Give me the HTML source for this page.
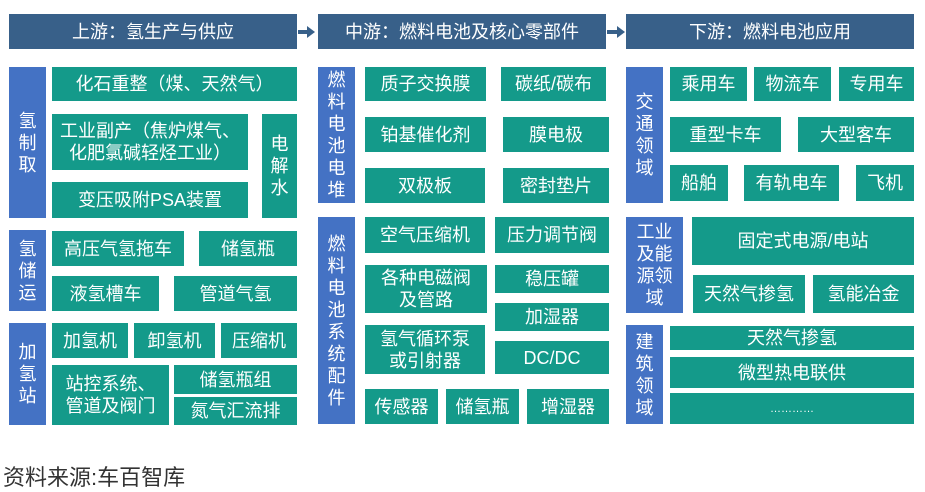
<!DOCTYPE html>
<html><head><meta charset="utf-8"><style>
body{margin:0;width:925px;height:491px;background:#fff;position:relative;overflow:hidden;font-family:"Liberation Sans","Noto Sans CJK SC",sans-serif;}
.b{position:absolute;display:flex;align-items:center;justify-content:center;text-align:center;color:#fff;box-sizing:border-box;font-size:18px;line-height:22px;}
.h{background:#386089;font-size:18px;}
.s{background:#4472c4;font-size:18px;line-height:22px;padding:0 9px;word-break:break-all;}
.t{background:#149a8a;}
.ar{position:absolute;width:0;height:0;border-top:6px solid transparent;border-bottom:6px solid transparent;border-left:8px solid #386089;}
.al{position:absolute;height:4px;background:#386089;}
.src{position:absolute;left:3px;top:460px;font-size:22px;color:#333;white-space:nowrap;}
</style></head><body>
<div class="b h" style="left:9px;top:14px;width:288px;height:35px">上游：氢生产与供应</div>
<div class="b h" style="left:318px;top:14px;width:288px;height:35px">中游：燃料电池及核心零部件</div>
<div class="b h" style="left:626px;top:14px;width:288px;height:35px">下游：燃料电池应用</div>
<div class="al" style="left:298px;top:30px;width:10px"></div><div class="ar" style="left:307px;top:26px"></div>
<div class="al" style="left:607px;top:30px;width:11px"></div><div class="ar" style="left:617px;top:26px"></div>

<div class="b s" style="left:9px;top:67px;width:37px;height:151px">氢制取</div>
<div class="b t" style="left:52px;top:67px;width:245px;height:34px">化石重整（煤、天然气）</div>
<div class="b t" style="left:52px;top:114px;width:196px;height:56px">工业副产（焦炉煤气、<br>化肥氯碱轻烃工业）</div>
<div class="b t" style="left:262px;top:114px;width:35px;height:104px;padding:0 8px">电解水</div>
<div class="b t" style="left:52px;top:182px;width:196px;height:36px">变压吸附PSA装置</div>

<div class="b s" style="left:9px;top:230px;width:37px;height:81px">氢储运</div>
<div class="b t" style="left:52px;top:231px;width:132px;height:35px">高压气氢拖车</div>
<div class="b t" style="left:199px;top:231px;width:98px;height:35px">储氢瓶</div>
<div class="b t" style="left:52px;top:276px;width:107px;height:35px">液氢槽车</div>
<div class="b t" style="left:174px;top:276px;width:123px;height:35px">管道气氢</div>

<div class="b s" style="left:9px;top:323px;width:37px;height:102px">加氢站</div>
<div class="b t" style="left:52px;top:323px;width:76px;height:35px">加氢机</div>
<div class="b t" style="left:134px;top:323px;width:81px;height:35px">卸氢机</div>
<div class="b t" style="left:221px;top:323px;width:76px;height:35px">压缩机</div>
<div class="b t" style="left:52px;top:365px;width:117px;height:60px">站控系统、<br>管道及阀门</div>
<div class="b t" style="left:174px;top:365px;width:123px;height:29px">储氢瓶组</div>
<div class="b t" style="left:174px;top:397px;width:123px;height:28px">氮气汇流排</div>

<div class="b s" style="left:318px;top:67px;width:37px;height:136px">燃料电池电堆</div>
<div class="b t" style="left:365px;top:67px;width:121px;height:34px">质子交换膜</div>
<div class="b t" style="left:501px;top:67px;width:105px;height:34px">碳纸/碳布</div>
<div class="b t" style="left:365px;top:117px;width:121px;height:35px">铂基催化剂</div>
<div class="b t" style="left:503px;top:117px;width:106px;height:35px">膜电极</div>
<div class="b t" style="left:365px;top:168px;width:120px;height:35px">双极板</div>
<div class="b t" style="left:503px;top:168px;width:106px;height:35px">密封垫片</div>

<div class="b s" style="left:318px;top:217px;width:37px;height:207px">燃料电池系统配件</div>
<div class="b t" style="left:365px;top:217px;width:120px;height:36px">空气压缩机</div>
<div class="b t" style="left:495px;top:217px;width:114px;height:36px">压力调节阀</div>
<div class="b t" style="left:365px;top:265px;width:122px;height:48px">各种电磁阀<br>及管路</div>
<div class="b t" style="left:495px;top:265px;width:114px;height:28px">稳压罐</div>
<div class="b t" style="left:495px;top:303px;width:114px;height:28px">加湿器</div>
<div class="b t" style="left:365px;top:325px;width:120px;height:49px">氢气循环泵<br>或引射器</div>
<div class="b t" style="left:495px;top:341px;width:114px;height:33px">DC/DC</div>
<div class="b t" style="left:365px;top:389px;width:73px;height:35px">传感器</div>
<div class="b t" style="left:446px;top:389px;width:73px;height:35px">储氢瓶</div>
<div class="b t" style="left:527px;top:389px;width:82px;height:35px">增湿器</div>

<div class="b s" style="left:626px;top:67px;width:37px;height:136px">交通领域</div>
<div class="b t" style="left:670px;top:67px;width:77px;height:34px">乘用车</div>
<div class="b t" style="left:754px;top:67px;width:77px;height:34px">物流车</div>
<div class="b t" style="left:839px;top:67px;width:75px;height:34px">专用车</div>
<div class="b t" style="left:670px;top:117px;width:111px;height:35px">重型卡车</div>
<div class="b t" style="left:798px;top:117px;width:116px;height:35px">大型客车</div>
<div class="b t" style="left:670px;top:165px;width:58px;height:36px">船舶</div>
<div class="b t" style="left:744px;top:165px;width:95px;height:36px">有轨电车</div>
<div class="b t" style="left:856px;top:165px;width:58px;height:36px">飞机</div>

<div class="b s" style="left:626px;top:217px;width:57px;height:96px;padding:0 10px">工业及能源领域</div>
<div class="b t" style="left:692px;top:217px;width:222px;height:48px">固定式电源/电站</div>
<div class="b t" style="left:693px;top:275px;width:112px;height:38px">天然气掺氢</div>
<div class="b t" style="left:813px;top:275px;width:101px;height:38px">氢能冶金</div>

<div class="b s" style="left:626px;top:325px;width:37px;height:99px">建筑领域</div>
<div class="b t" style="left:670px;top:326px;width:244px;height:24px">天然气掺氢</div>
<div class="b t" style="left:670px;top:357px;width:244px;height:31px">微型热电联供</div>
<div class="b t" style="left:670px;top:393px;width:244px;height:31px;font-size:11px">…………</div>

<div class="src">资料来源:车百智库</div>
</body></html>
